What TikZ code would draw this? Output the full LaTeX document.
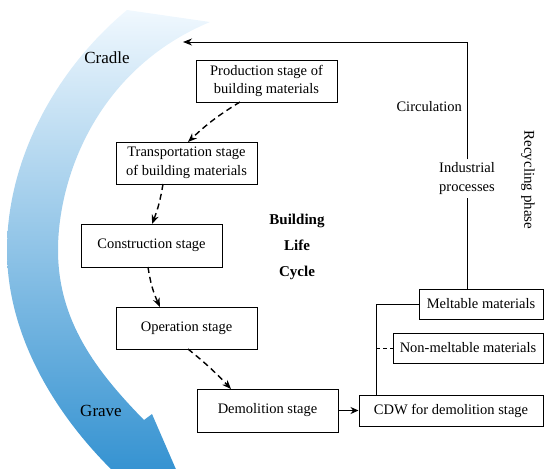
\documentclass[tikz,border=0pt]{standalone}
\usepackage{fontspec}
\setmainfont{Liberation Serif}
\usetikzlibrary{arrows.meta}
\begin{document}
\begin{tikzpicture}[x=1pt,y=-1pt,
  stagebox/.style={draw,line width=1pt,inner sep=0pt,align=center,
    font=\fontsize{14.5}{18.5}\selectfont},
  plain/.style={inner sep=0pt,align=center,font=\fontsize{14.5}{18.5}\selectfont},
  dashedarrow/.style={line width=1.4pt,dash pattern=on 6pt off 4pt,-{Stealth[length=9pt,width=7pt]}},
  solidline/.style={line width=1pt}]
\useasboundingbox (0,0) rectangle (550,475);
% big curved arrow
\begin{scope}
\clip (0,0) rectangle (550,468);
\shade[top color={rgb,255:red,240;green,248;blue,254},
       middle color={rgb,255:red,152;green,204;blue,237},
       bottom color={rgb,255:red,52;green,146;blue,209}]
  (127,10) .. controls (55,70) and (7,160) .. (7,250)
  .. controls (7,340) and (60,420) .. (116,474)
  -- (178,474) -- (152,414) -- (144,420)
  .. controls (95,370) and (58,320) .. (58,250)
  .. controls (58,180) and (95,70) .. (210,22)
  -- cycle;
\end{scope}
\node[font=\fontsize{17}{20}\selectfont] (cradle) at (107,58) {Cradle};
\node[font=\fontsize{17}{20}\selectfont] (grave) at (101,411) {Grave};
% stage boxes
\node[stagebox,minimum width=141pt,minimum height=42pt] (prod) at (266.5,81) {Production stage of\\building materials};
\node[stagebox,minimum width=141pt,minimum height=42pt] (trans) at (186.5,163) {Transportation stage\\of building materials};
\node[stagebox,minimum width=141pt,minimum height=43pt] (cons) at (151.5,245.5) {Construction stage};
\node[stagebox,minimum width=141pt,minimum height=42pt] (oper) at (186.5,328) {Operation stage};
\node[stagebox,minimum width=141pt,minimum height=43pt] (demo) at (267.5,410.5) {Demolition stage};
\node[stagebox,minimum width=184pt,minimum height=31pt] (cdw) at (451,410.5) {CDW for demolition stage};
\node[stagebox,minimum width=124pt,minimum height=30pt] (melt) at (481,304) {Meltable materials};
\node[stagebox,minimum width=150pt,minimum height=30pt] (nonmelt) at (468,348) {Non-meltable materials};
% center title
\node[font=\fontsize{15}{26}\selectfont\bfseries,align=center] (blc) at (297,247) {Building\\Life\\Cycle};
% labels
\node[plain,anchor=east] (circ) at (462,107) {Circulation};
\node[plain,inner sep=3pt] (ind) at (467,178.5) {Industrial\\processes};
\node[font=\fontsize{15}{18}\selectfont,rotate=-90] (recyc) at (528,180) {Recycling phase};
% dashed flow
\draw[dashedarrow] (240,102) to[bend right=6] (188,142);
\draw[dashedarrow] (163,184) to[bend left=6] (152,224);
\draw[dashedarrow] (148,267) to[bend right=8] (160,307);
\draw[dashedarrow] (188,349) to[bend left=4] (231,389);
% recycling loop
\coordinate (mtop) at (467,289);
\coordinate (tr) at (467,42);
\coordinate (tl) at (183,42);
\draw[solidline] (mtop) -- (ind.south);
\draw[solidline,-{Stealth[length=9pt,width=7pt]}] (ind.north) -- (tr) -- (tl);
\draw[solidline,-{Stealth[length=8pt,width=7pt]}] (demo) -- (cdw);
\coordinate (br) at (376,395);
\coordinate (brmid) at (376,348);
\draw[solidline] (br) |- (melt.west);
\draw[solidline,dash pattern=on 4pt off 3pt] (brmid) -- (nonmelt.west);
\end{tikzpicture}
\end{document}
